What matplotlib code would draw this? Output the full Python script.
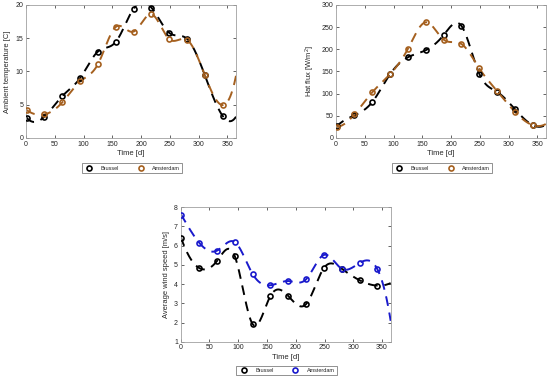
import numpy as np
import matplotlib
matplotlib.use("Agg")
import matplotlib.pyplot as plt

# ---- data ----
days = [1, 32, 63, 94, 125, 156, 187, 218, 249, 280, 311, 342]

temp_brussel = [3.05, 3.2, 6.3, 9.0, 13.0, 14.45, 19.45, 19.6, 15.8, 14.9, 9.4, 3.3]
temp_amsterdam = [4.2, 3.55, 5.35, 8.5, 11.1, 16.7, 16.0, 18.6, 14.85, 14.75, 9.4, 4.95]

flux_brussel = [26, 51, 81, 144, 182, 198, 232, 253, 145, 104, 65, 29]
flux_amsterdam = [25, 53, 103, 144, 201, 261, 222, 212, 157, 106, 59, 29]

wind_brussel = [6.38, 4.84, 5.2, 5.46, 1.92, 3.38, 3.38, 2.96, 4.84, 4.8, 4.2, 3.92]
wind_amsterdam = [7.6, 6.16, 5.74, 6.19, 4.53, 3.94, 4.16, 4.25, 5.52, 4.8, 5.1, 4.77]

series_labels = ["Brussel", "Amsterdam"]
x_label = "Time [d]"
y_labels = ["Ambient temperature [C]", "Hat flux [W/m$^2$]", "Average wind speed [m/s]"]

plt.rcParams["font.family"] = ["Liberation Sans", "DejaVu Sans"]
plt.rcParams["mathtext.fontset"] = "custom"
plt.rcParams["mathtext.rm"] = "Liberation Sans"


def spline_notaknot(x, y, xs):
    x = np.asarray(x, float)
    y = np.asarray(y, float)
    n = len(x)
    h = np.diff(x)
    A = np.zeros((n, n))
    b = np.zeros(n)
    A[0, 0] = -1 / h[0]
    A[0, 1] = 1 / h[0] + 1 / h[1]
    A[0, 2] = -1 / h[1]
    A[-1, -3] = -1 / h[-2]
    A[-1, -2] = 1 / h[-2] + 1 / h[-1]
    A[-1, -1] = -1 / h[-1]
    for i in range(1, n - 1):
        A[i, i - 1] = h[i - 1]
        A[i, i] = 2 * (h[i - 1] + h[i])
        A[i, i + 1] = h[i]
        b[i] = 6 * ((y[i + 1] - y[i]) / h[i] - (y[i] - y[i - 1]) / h[i - 1])
    M = np.linalg.solve(A, b)
    xs = np.asarray(xs, float)
    idx = np.clip(np.searchsorted(x, xs) - 1, 0, n - 2)
    x0 = x[idx]; x1 = x[idx + 1]; hh = h[idx]
    a = (x1 - xs) / hh
    c = (xs - x0) / hh
    return (a * y[idx] + c * y[idx + 1]
            + ((a ** 3 - a) * M[idx] + (c ** 3 - c) * M[idx + 1]) * hh ** 2 / 6)


fig = plt.figure(figsize=(5.5, 3.83), dpi=100)

spine_c = "#a0a0a0"
text_c = "#262626"
brown = "#a5601f"
blue = "#1a1acc"

axes_pos = [
    [0.0473, 0.6397, 0.3818, 0.3473],
    [0.6109, 0.6397, 0.3818, 0.3473],
    [0.3285, 0.1078, 0.3818, 0.351],
]
datasets = [
    (temp_brussel, temp_amsterdam, brown, (0, 20), np.arange(0, 21, 5)),
    (flux_brussel, flux_amsterdam, brown, (0, 300), np.arange(0, 301, 50)),
    (wind_brussel, wind_amsterdam, blue, (1, 8), np.arange(1, 9, 1)),
]
legend_y = [-0.2256, -0.2256, -0.215]

xs = np.linspace(0, 365, 400)
for k, (pos, (yb, ya, col2, ylim, yt)) in enumerate(zip(axes_pos, datasets)):
    ax = fig.add_axes(pos)
    for yv, col, lab in [(yb, "black", series_labels[0]), (ya, col2, series_labels[1])]:
        ax.plot(xs, spline_notaknot(days, yv, xs), color=col, lw=1.4,
                ls=(0, (5, 3.5)), zorder=2)
        ax.plot(days, yv, ls="none", marker="o", ms=3.6, mfc="none",
                mec=col, mew=1.2, label=lab, zorder=3)
    ax.set_xlim(0, 365)
    ax.set_ylim(*ylim)
    ax.set_xticks(np.arange(0, 351, 50))
    ax.set_yticks(yt)
    ax.tick_params(direction="in", top=True, right=True, length=2.5, width=0.5,
                   labelsize=5.0, colors=text_c, pad=2)
    for s in ax.spines.values():
        s.set_color(spine_c)
        s.set_linewidth(0.6)
    ax.set_xlabel(x_label, fontsize=5.5, color=text_c, labelpad=1.5)
    ax.set_ylabel(y_labels[k], fontsize=5.4, color=text_c, labelpad=3)
    leg = ax.legend(loc="center", bbox_to_anchor=(0.505, legend_y[k]), ncol=2,
                    fontsize=4.0, frameon=True, fancybox=False, edgecolor="#404040",
                    handletextpad=1.2, columnspacing=3.0, borderpad=0.4,
                    handlelength=1.8)
    leg.get_frame().set_linewidth(0.5)
    for t in leg.get_texts():
        t.set_color(text_c)

fig.savefig("out.png", dpi=100)
